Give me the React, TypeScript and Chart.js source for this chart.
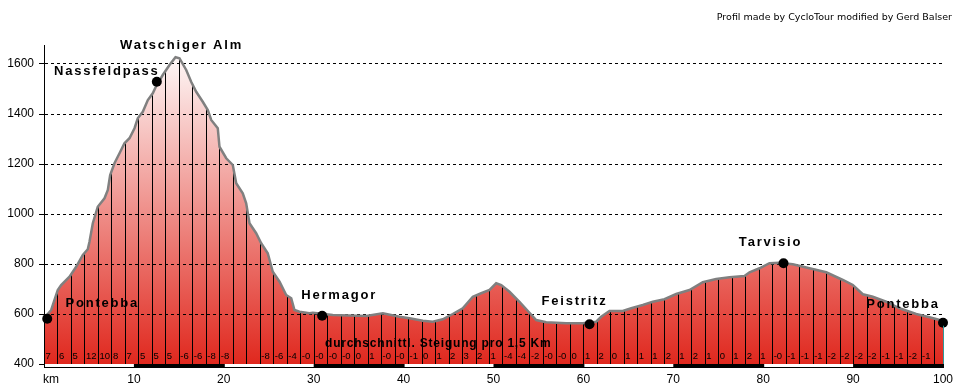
import React, { useEffect, useRef } from "react";
import { Chart, registerables } from "chart.js";

Chart.register(...registerables);

// ---- data ----
const PROFILE_KM = [
  0, 0.8, 1.53, 1.91, 2.84, 3.58, 4.32, 4.87, 5.06, 5.43, 5.98, 6.73, 7.1, 7.36, 7.84, 8.4, 8.95, 9.51,
  10.07, 10.43, 10.99, 11.55, 12.1, 12.48, 13.21, 13.96, 14.63, 15.07, 15.82, 16.37, 16.93, 17.66, 18.22,
  18.6, 19.33, 19.52, 20.27, 21.0, 21.38, 22.11, 22.49, 22.86, 23.6, 24.16, 24.89, 25.45, 26.2, 26.94,
  27.5, 27.86, 28.42, 29.53, 29.9, 32.12, 35.84, 37.69, 39.54, 40.66, 42.14, 43.25, 44.36, 45.47, 46.58,
  47.7, 48.63, 49.56, 50.3, 50.86, 51.78, 52.89, 54.0, 54.75, 55.86, 58.09, 59.93, 61.42, 61.98, 62.9,
  64.38, 65.32, 66.61, 67.72, 69.02, 70.32, 71.8, 73.28, 74.77, 76.25, 77.92, 78.48, 79.59, 80.7, 81.81,
  83.29, 85.15, 87.01, 88.86, 89.97, 91.08, 92.19, 93.68, 95.16, 97.02, 98.5, 99.61, 100,
];
const PROFILE_ELEV = [
  582, 616, 696, 716, 749, 789, 836, 859, 889, 963, 1029, 1063, 1096, 1156, 1203, 1243, 1283, 1303,
  1343, 1383, 1409, 1456, 1483, 1512, 1556, 1596, 1627, 1623, 1576, 1529, 1489, 1449, 1416,
  1376, 1343, 1269, 1223, 1196, 1123, 1083, 1043, 963, 923, 883, 843, 769, 729, 676,
  663, 616, 609, 603, 605, 596, 592, 603, 589, 583, 573, 569, 579, 600, 623,
  669, 683, 696, 723, 716, 689, 649, 605, 576, 567, 563, 563, 569, 589, 612,
  612, 623, 636, 649, 659, 680, 696, 727, 740, 747, 752, 767, 783, 803, 805,
  799, 783, 767, 736, 716, 679, 669, 649, 623, 600, 587, 576, 565,
];

const PLACE_NAMES = ["Pontebba", "Nassfeldpass", "Hermagor", "Feistritz", "Tarvisio", "Pontebba"];
const PLACE_KM = [0.36, 12.55, 30.94, 60.68, 82.26, 100];
const PLACE_ELEV = [581, 1529, 593, 559, 803, 565];
const PEAK_NAME = "Watschiger Alm";

const SEGMENT_KM = 1.5;
const GRADIENT_LABELS = [
  "7", "6", "5", "12", "10", "8", "7", "5", "5", "5", "-6", "-6", "-8", "-8", "", "", "-8", "-6", "-4",
  "-0", "-0", "-0", "-0", "0", "1", "-0", "-0", "-1", "0", "1", "2", "3", "2", "1", "-4", "-4", "-2",
  "-0", "-0", "0", "1", "2", "0", "1", "1", "1", "2", "1", "2", "1", "0", "1", "2", "1", "-0", "-1",
  "-1", "-1", "-2", "-2", "-2", "-2", "-1", "-1", "-2", "-1", "",
];

const Y_TICKS = [400, 600, 800, 1000, 1200, 1400, 1600];
const Y_MIN = 400;
const Y_MAX = 1676;
const X_MIN = 0;
const X_MAX = 100;
const X_STEP = 10;
const X_UNIT = "km";
const CAPTION = "durchschnittl. Steigung pro 1,5 Km";
const CREDIT = "Profil made by CycloTour modified by Gerd Balser";

// ---- layout / style (not data) ----
const LABEL_OFFSETS: [number, number][] = [
  [55, -15],
  [-50, -10],
  [17, -20],
  [-15, -23],
  [-13, -21],
  [-40, -18],
];
const PEAK_OFFSET: [number, number] = [6, -11.5];
const RED = "rgb(224,40,30)";
const TICK_FONT = "12px 'Liberation Sans', Arial, sans-serif";
const LABEL_FONT = "bold 13px 'Liberation Sans', Arial, sans-serif";

const decorPlugin = {
  id: "profileDecor",
  beforeDatasetsDraw(chart: any) {
    const { ctx, chartArea, scales } = chart;
    const pts = chart.getDatasetMeta(0).data;
    if (!pts.length) return;
    const bottom = chartArea.bottom;
    ctx.save();
    ctx.beginPath();
    ctx.moveTo(pts[0].x, bottom);
    for (const p of pts) ctx.lineTo(p.x, p.y);
    ctx.lineTo(pts[pts.length - 1].x, bottom);
    ctx.closePath();
    ctx.clip();
    ctx.strokeStyle = "#000";
    ctx.lineWidth = 1;
    for (let i = 1; i < GRADIENT_LABELS.length; i++) {
      const x = Math.round(scales.x.getPixelForValue(i * SEGMENT_KM)) + 0.5;
      ctx.beginPath();
      ctx.moveTo(x, chartArea.top);
      ctx.lineTo(x, bottom);
      ctx.stroke();
    }
    ctx.restore();
  },
  afterDraw(chart: any) {
    const { ctx, chartArea, scales } = chart;
    const xs = scales.x;
    const bottom = chartArea.bottom;
    ctx.save();

    // teal edge at the end of the profile
    const pts = chart.getDatasetMeta(0).data;
    const last = pts[pts.length - 1];
    ctx.strokeStyle = "#2f9a9a";
    ctx.lineWidth = 1;
    ctx.beginPath();
    ctx.moveTo(Math.round(last.x) + 0.5, last.y + 3);
    ctx.lineTo(Math.round(last.x) + 0.5, bottom);
    ctx.stroke();

    // distance strip
    const x0 = xs.getPixelForValue(X_MIN);
    const x1 = xs.getPixelForValue(X_MAX);
    ctx.fillStyle = "#000";
    ctx.fillRect(x0, bottom, x1 - x0 + 1, 4);
    ctx.fillStyle = "#fff";
    for (let k = X_MIN; k < X_MAX; k += 2 * X_STEP) {
      const a = xs.getPixelForValue(k);
      const b = xs.getPixelForValue(k + X_STEP);
      ctx.fillRect(a + 1, bottom, b - a - 1, 3);
    }

    // gradient labels per 1.5 km
    ctx.fillStyle = "#000";
    ctx.font = "9.5px 'Liberation Sans', Arial, sans-serif";
    ctx.textAlign = "left";
    ctx.textBaseline = "alphabetic";
    GRADIENT_LABELS.forEach((t, i) => {
      if (!t) return;
      ctx.fillText(t, xs.getPixelForValue(i * SEGMENT_KM) + 1.5, bottom - 5);
    });

    // caption
    ctx.font = "bold 12px 'Liberation Sans', Arial, sans-serif";
    (ctx as any).letterSpacing = "0.8px";
    ctx.fillText(CAPTION, 325, bottom - 17);

    // unit label on x axis
    (ctx as any).letterSpacing = "0px";
    ctx.font = TICK_FONT;
    ctx.fillText(X_UNIT, chartArea.left - 1, 383);

    // credit
    ctx.font = "9.5px 'DejaVu Sans', sans-serif";
    ctx.textAlign = "right";
    ctx.fillText(CREDIT, 952, 20);

    // place labels
    ctx.font = LABEL_FONT;
    (ctx as any).letterSpacing = "1.8px";
    ctx.textAlign = "center";
    ctx.textBaseline = "middle";
    const pm = chart.getDatasetMeta(1).data;
    PLACE_NAMES.forEach((name, i) => {
      const p = pm[i];
      const [dx, dy] = LABEL_OFFSETS[i];
      ctx.fillText(name, p.x + dx, p.y + dy);
    });
    let peak = 0;
    PROFILE_ELEV.forEach((v, i) => {
      if (v > PROFILE_ELEV[peak]) peak = i;
    });
    const pp = pts[peak];
    ctx.fillText(PEAK_NAME, pp.x + PEAK_OFFSET[0], pp.y + PEAK_OFFSET[1]);
    ctx.restore();
  },
};

export default function App() {
  const ref = useRef<HTMLCanvasElement>(null);
  useEffect(() => {
    document.body.style.margin = "0";
    const profile = PROFILE_KM.map((x, i) => ({ x, y: PROFILE_ELEV[i] }));
    const places = PLACE_KM.map((x, i) => ({ x, y: PLACE_ELEV[i] }));
    const chart = new Chart(ref.current as HTMLCanvasElement, {
      type: "line",
      data: {
        datasets: [
          {
            data: profile,
            borderColor: "#808080",
            borderWidth: 2.5,
            pointRadius: 0,
            tension: 0,
            fill: "start",
            order: 2,
            backgroundColor: (c: any) => {
              const ch = c.chart;
              const area = ch.chartArea;
              if (!area) return RED;
              const g = ch.ctx.createLinearGradient(0, area.top, 0, area.bottom);
              g.addColorStop(0, "#ffffff");
              g.addColorStop(1, RED);
              return g;
            },
          },
          {
            data: places,
            showLine: false,
            pointRadius: 5,
            pointBackgroundColor: "#000",
            pointBorderColor: "#000",
            pointBorderWidth: 0,
            order: 0,
            clip: false as any,
          },
        ],
      },
      options: {
        responsive: false,
        animation: false,
        events: [],
        layout: { padding: { top: 45, right: 18, left: 0, bottom: 0 } },
        plugins: {
          legend: { display: false },
          tooltip: { enabled: false },
          title: { display: false },
          filler: { drawTime: "beforeDraw" } as any,
        },
        scales: {
          x: {
            type: "linear",
            min: X_MIN,
            max: X_MAX,
            afterFit: (s: any) => {
              s.height = 25;
            },
            grid: { display: false, drawTicks: false },
            border: { display: false },
            ticks: {
              stepSize: X_STEP,
              color: "#000",
              font: { family: "'Liberation Sans', Arial, sans-serif", size: 12 },
              padding: 8,
              maxRotation: 0,
              autoSkip: false,
              callback: (v: any) => (v === X_MIN ? "" : String(v)),
            },
          },
          y: {
            type: "linear",
            min: Y_MIN,
            max: Y_MAX,
            afterBuildTicks: (s: any) => {
              s.ticks = Y_TICKS.map((value) => ({ value }));
            },
            afterFit: (s: any) => {
              s.width = 44;
            },
            grid: { color: "#000", lineWidth: 1, tickLength: 5, drawTicks: true },
            border: { display: true, color: "#000", width: 1, dash: [3, 3] },
            ticks: {
              color: "#000",
              font: { family: "'Liberation Sans', Arial, sans-serif", size: 12 },
              padding: 5,
              callback: (v: any) => String(v),
            },
          },
        },
      },
      plugins: [decorPlugin],
    } as any);
    return () => chart.destroy();
  }, []);
  return (
    <canvas
      ref={ref}
      width={961}
      height={389}
      style={{ display: "block", width: "961px", height: "389px" }}
    />
  );
}
